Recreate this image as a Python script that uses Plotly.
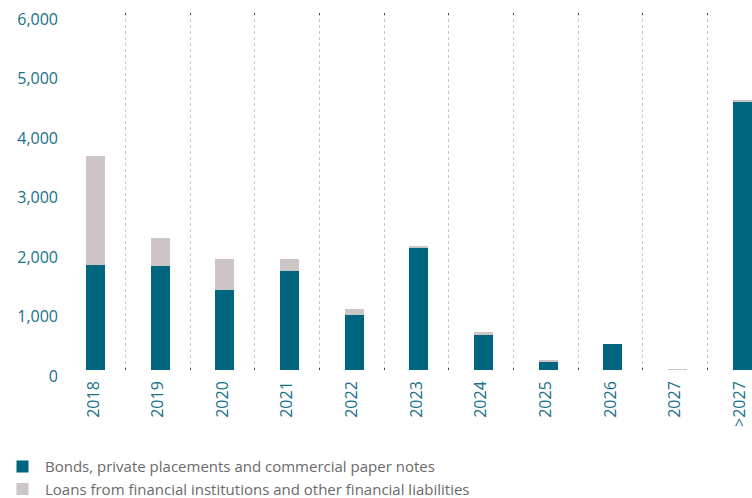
import plotly.graph_objects as go

categories = ["2018", "2019", "2020", "2021", "2022", "2023", "2024", "2025", "2026", "2027", ">2027"]
bonds = [1760, 1745, 1340, 1660, 920, 2057, 583, 146, 432, 0, 4500]
loans = [1832, 470, 520, 200, 100, 17, 51, 17, 0, 12, 34]
y_ticks = [0, 1000, 2000, 3000, 4000, 5000, 6000]
y_tick_labels = ["0", "1,000", "2,000", "3,000", "4,000", "5,000", "6,000"]

series_names = [
    "Bonds, private placements and commercial paper notes",
    "Loans from financial institutions and other financial liabilities",
]
teal = "#00667f"
grey = "#cdc5c6"
label_col = "#17708a"

fig = go.Figure()
fig.add_trace(go.Bar(x=categories, y=bonds, name=series_names[0], marker=dict(color=teal, line=dict(width=0)),
                     width=0.294, offset=-0.11))
fig.add_trace(go.Bar(x=categories, y=loans, name=series_names[1], marker=dict(color=grey, line=dict(width=0)),
                     width=0.294, offset=-0.11))

fig.update_layout(
    width=752, height=498,
    barmode="stack",
    margin=dict(l=61, r=0, t=13, b=128, autoexpand=False),
    paper_bgcolor="white", plot_bgcolor="white",
    font=dict(family="Open Sans", size=16, color=label_col),
    showlegend=True,
    legend=dict(
        orientation="v", x=-61/691, xanchor="left", y=-0.225, yanchor="top",
        font=dict(family="Open Sans", size=15, color="#6a6a6a"),
        traceorder="normal", itemwidth=35, tracegroupgap=0,
        bgcolor="rgba(0,0,0,0)",
    ),
    xaxis=dict(
        type="category", range=[-0.5, 10.19],
        tickson="boundaries", showgrid=True, gridcolor="#c8c8c8", griddash="dot", gridwidth=1,
        ticks="inside", ticklen=2, tickcolor="#444", mirror="ticks", showline=False,
        tickangle=-90, tickfont=dict(family="Open Sans", size=16, color=label_col),
        ticklabelstandoff=7, zeroline=False,
    ),
    yaxis=dict(
        range=[0, 6005], tickvals=y_ticks, ticktext=y_tick_labels,
        showgrid=False, zeroline=False, showline=False, ticks="",
        tickfont=dict(family="Open Sans", size=16, color=label_col),
        ticklabelshift=6, ticklabelstandoff=2,
    ),
)

fig.write_html(
    "out.html",
    config={"displayModeBar": False},
    post_script="document.body.style.margin='0';document.body.style.overflow='hidden';",
)
